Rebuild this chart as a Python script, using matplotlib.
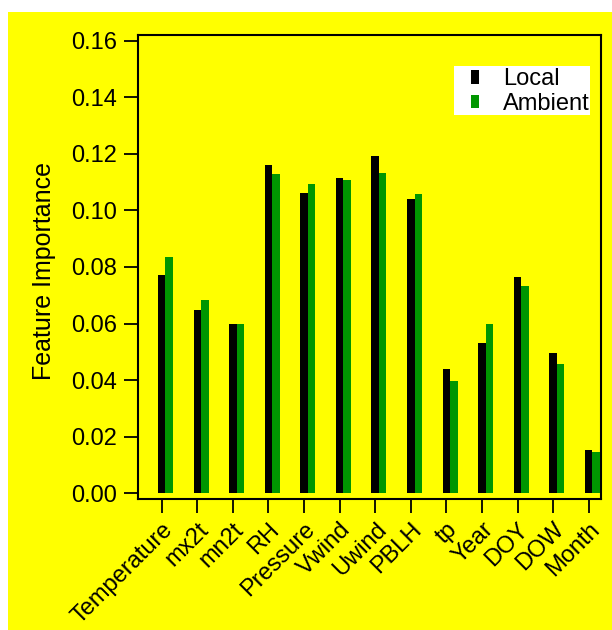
import matplotlib
matplotlib.use("Agg")
import matplotlib.pyplot as plt
from matplotlib.patches import Rectangle, Patch
import numpy as np

plt.rcParams['font.family'] = ['Liberation Sans', 'DejaVu Sans']

features = ["Temperature", "mx2t", "mn2t", "RH", "Pressure", "Vwind", "Uwind",
            "PBLH", "tp", "Year", "DOY", "DOW", "Month"]
local = [0.0773, 0.0649, 0.0597, 0.1160, 0.1062, 0.1114, 0.1192,
         0.1039, 0.0438, 0.0530, 0.0766, 0.0495, 0.0152]
ambient = [0.0835, 0.0682, 0.0597, 0.1130, 0.1092, 0.1108, 0.1132,
           0.1059, 0.0397, 0.0597, 0.0734, 0.0456, 0.0145]
yticks = [0.00, 0.02, 0.04, 0.06, 0.08, 0.10, 0.12, 0.14, 0.16]

YELLOW = "#FFFF00"
GREEN = "#009600"

fig = plt.figure(figsize=(6.12, 6.30), dpi=100, facecolor="white")
fig.patches.append(Rectangle((8/612, 0), 604/612, 618/630, transform=fig.transFigure,
                             facecolor=YELLOW, edgecolor="none", zorder=-10))

ax = fig.add_axes([137.7/612, 1-499/630, (601.3-137.7)/612, (499-35)/630])
ax.set_facecolor(YELLOW)

x = np.arange(len(features))
w = 0.21
ax.bar(x, local, width=w, color="black", align="center", zorder=2)
ax.bar(x + w, ambient, width=w, color=GREEN, align="center", zorder=3)

ax.set_xlim(-0.675, 12.354)
ax.set_ylim(-0.0020, 0.1620)
ax.set_yticks(yticks)
ax.set_yticklabels([f"{v:.2f}" for v in yticks])
ax.set_xticks(x)
ax.set_xticklabels(features, rotation=45, ha="right", rotation_mode="anchor")

for s in ax.spines.values():
    s.set_linewidth(1.5)
ax.tick_params(axis="both", direction="out", length=10, width=1.3, labelsize=17, color="black")
ax.tick_params(axis="y", pad=5)
ax.tick_params(axis="x", pad=4)

fig.text(44/612, 1-271.5/630, "Feature Importance", rotation=90, va="center", ha="center",
         fontsize=18)

# white legend box
ax.add_patch(Rectangle((0.6823, 0.8276), 0.9756-0.6823, 0.9332-0.8276, transform=ax.transAxes,
                       facecolor="white", edgecolor="none", zorder=4, clip_on=False))

handles = [Patch(facecolor="black", edgecolor="none"), Patch(facecolor=GREEN, edgecolor="none")]
leg = ax.legend(handles, ["Local", "Ambient"], loc="upper left",
                bbox_to_anchor=(0.7138, 0.933), fontsize=17, frameon=False,
                handlelength=0.35, handleheight=0.5, handletextpad=1.0,
                borderpad=0.1, labelspacing=0.1, borderaxespad=0.0)
leg.set_zorder(5)

fig.savefig("out.png", dpi=100, facecolor="white")
